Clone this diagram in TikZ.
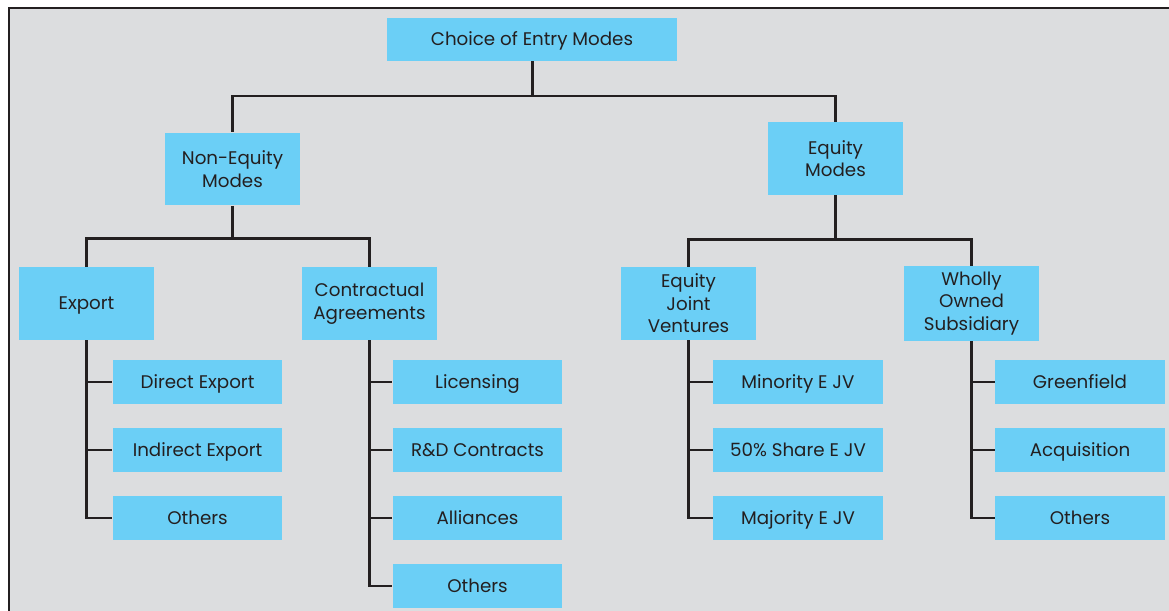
\documentclass[tikz,border=0pt]{standalone}
\usepackage{fontspec}
\setmainfont{Poppins}
\usepackage{tikz}
\usetikzlibrary{positioning,calc}
\definecolor{panelgrey}{RGB}{220,221,223}
\definecolor{boxblue}{RGB}{107,207,246}
\definecolor{linedark}{RGB}{35,31,32}

\begin{document}
\begin{tikzpicture}[x=0.02cm,y=-0.02cm,
    every node/.style={align=center,font=\fontsize{10.4}{12.8}\selectfont,text=linedark},
    oneline/.style={text height=1.55ex,text depth=.3ex},
    topbox/.style={fill=boxblue,oneline,minimum width=5.8cm,minimum height=0.86cm},
    modebox/.style={fill=boxblue,minimum width=2.7cm,minimum height=1.46cm},
    leafbox/.style={fill=boxblue,oneline,minimum width=3.4cm,minimum height=0.88cm},
    link/.style={draw=linedark,line width=1.7pt}]
  % frame
  \useasboundingbox (0,0) rectangle (1169,611);
  \fill[white] (0,0) rectangle (1169,611);
  \fill[panelgrey] (9,8) rectangle (1169,611);
  \draw[link] (9,611) -- (9,8) -- (1169,8);
  % boxes
  \node[topbox] (root) at (532,39.5) {Choice of Entry Modes};
  \node[modebox] (noneq) at (232.5,169) {Non-Equity\\Modes};
  \node[modebox] (eq) at (835.5,158.5) {Equity\\Modes};
  \node[modebox,oneline] (export) at (86.5,303.5) {Export};
  \node[modebox] (contract) at (369.5,303.5) {Contractual\\Agreements};
  \node[modebox] (ejv) at (688.5,303.5) {Equity\\Joint\\Ventures};
  \node[modebox] (wos) at (971.5,303.5) {Wholly\\Owned\\Subsidiary};
  \node[leafbox] (direct) at (197.5,382) {Direct Export};
  \node[leafbox] (indirect) at (197.5,450) {Indirect Export};
  \node[leafbox] (exothers) at (197.5,518) {Others};
  \node[leafbox] (licensing) at (477.5,382) {Licensing};
  \node[leafbox] (rnd) at (477.5,450) {R\&D Contracts};
  \node[leafbox] (alliances) at (477.5,518) {Alliances};
  \node[leafbox] (coothers) at (477.5,586) {Others};
  \node[leafbox] (minority) at (798,382) {Minority E JV};
  \node[leafbox] (halfshare) at (798,450) {50\% Share E JV};
  \node[leafbox] (majority) at (798,518) {Majority E JV};
  \node[leafbox] (greenfield) at (1080,382) {Greenfield};
  \node[leafbox] (acquisition) at (1080,450) {Acquisition};
  \node[leafbox] (woothers) at (1080,518) {Others};
  % connectors
  \coordinate (rootbar) at (532,96);
  \draw[link] (root.south) -- (rootbar) -| (noneq.north);
  \draw[link] (rootbar) -| (eq.north);
  \draw[link] (noneq.south) -- ++(0,33) -| (export.north);
  \draw[link] (noneq.south) ++(0,33) -| (contract.north);
  \draw[link] (eq.south) -- ++(0,44) -| (ejv.north);
  \draw[link] (eq.south) ++(0,44) -| (wos.north);
  \foreach \p/\c in {export/direct,export/indirect,export/exothers,
      contract/licensing,contract/rnd,contract/alliances,contract/coothers,
      ejv/minority,ejv/halfshare,ejv/majority,
      wos/greenfield,wos/acquisition,wos/woothers}
    \draw[link] (\p.south) |- (\c.west);
\end{tikzpicture}
\end{document}
